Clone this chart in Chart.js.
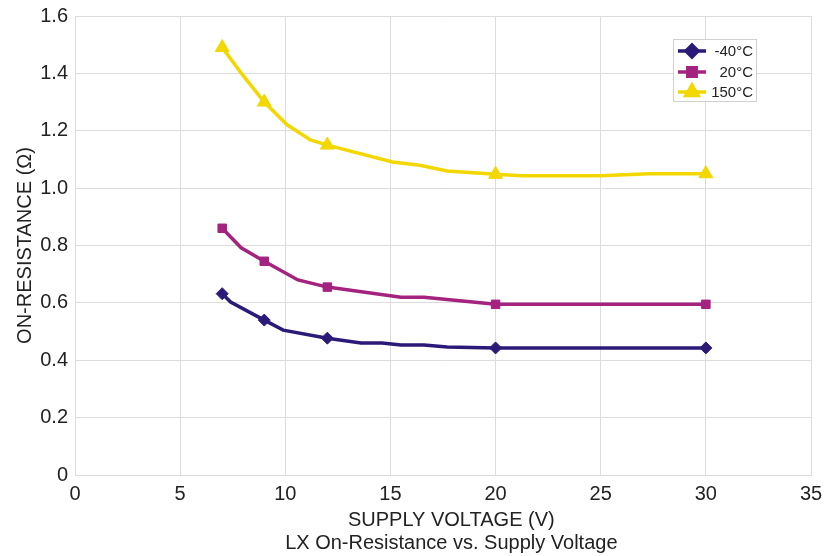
<!DOCTYPE html>
<html>
<head>
<meta charset="utf-8">
<script src="https://cdn.jsdelivr.net/npm/chart.js@4/dist/chart.umd.min.js"></script>
<style>
html,body{margin:0;padding:0;background:#fff;}
#wrap{width:826px;height:556px;position:relative;}
</style>
</head>
<body>
<div id="wrap"><canvas id="c" width="826" height="556"></canvas></div>
<script>
// ---- data ----
const seriesNames = ['-40°C', ' 20°C', '150°C'];
const markerX = [7, 9, 12, 20, 30];

const xNeg40 = [7, 7.4, 9, 9.9, 12, 13.6, 14.6, 15.5, 16.6, 17.7, 20, 30];
const yNeg40 = [0.632, 0.603, 0.540, 0.505, 0.477, 0.460, 0.460, 0.453, 0.453, 0.446, 0.443, 0.443];

const x20 = [7, 7.9, 9, 10.6, 12, 15.5, 16.6, 20, 30];
const y20 = [0.860, 0.792, 0.745, 0.680, 0.655, 0.620, 0.620, 0.595, 0.595];

const x150 = [7, 7.85, 9, 10.1, 11.2, 12, 15.1, 16.4, 17.7, 20, 21.2, 25, 27.3, 30];
const y150 = [1.490, 1.406, 1.300, 1.220, 1.168, 1.150, 1.091, 1.080, 1.060, 1.048, 1.043, 1.043, 1.050, 1.050];

const xTicks = [0, 5, 10, 15, 20, 25, 30, 35];
const yTicks = [0, 0.2, 0.4, 0.6, 0.8, 1.0, 1.2, 1.4, 1.6];

const xTitle = ['   SUPPLY VOLTAGE (V)', '   LX On-Resistance vs. Supply Voltage'];
const yTitle = 'ON-RESISTANCE (Ω)';

const colors = ['#2C1A78', '#A3237F', '#F2D700'];
const styles = ['rectRot', 'rect', 'triangle'];
const radii = [6, 6, 8];

function pts(xs, ys){ return xs.map((x,i)=>({x:x, y:ys[i]})); }
const allData = [pts(xNeg40,yNeg40), pts(x20,y20), pts(x150,y150)];

const FONT = '"Liberation Sans", Arial, sans-serif';

const datasets = allData.map((d,i)=>({
  label: seriesNames[i],
  data: d,
  borderColor: colors[i],
  backgroundColor: colors[i],
  borderWidth: 3.5,
  tension: 0,
  pointStyle: styles[i],
  pointRadius: ctx => (ctx.raw && markerX.includes(ctx.raw.x)) ? radii[i] : 0,
  pointHoverRadius: 0,
  pointBorderWidth: 1,
  order: 2 - i
}));

// legend drawn inside the plot area, top right
const insideLegend = {
  id: 'insideLegend',
  afterDraw(chart){
    const ctx = chart.ctx;
    const left = 673, top = 39, w = 83, h = 62;
    ctx.save();
    ctx.fillStyle = '#fff';
    ctx.fillRect(left, top, w, h);
    ctx.strokeStyle = '#d0d0d0';
    ctx.lineWidth = 1;
    ctx.strokeRect(left+0.5, top+0.5, w, h);
    const rows = [51, 72, 92];
    chart.data.datasets.forEach((ds,i)=>{
      const y = rows[i];
      ctx.strokeStyle = ds.borderColor;
      ctx.lineWidth = 3.5;
      ctx.beginPath();
      ctx.moveTo(678, y); ctx.lineTo(706, y);
      ctx.stroke();
      ctx.fillStyle = ds.backgroundColor;
      if (Chart.helpers && Chart.helpers.drawPoint) {
        Chart.helpers.drawPoint(ctx, {pointStyle: styles[i], radius: i === 2 ? 7 : 6, borderWidth: 1, rotation: 0}, 692, y);
      }
      ctx.fillStyle = '#222';
      ctx.font = '15px ' + FONT;
      ctx.textAlign = 'right';
      ctx.textBaseline = 'middle';
      ctx.fillText(ds.label, 753, y+1);
    });
    ctx.restore();
  }
};

new Chart(document.getElementById('c'), {
  type: 'line',
  data: { datasets },
  plugins: [insideLegend],
  options: {
    responsive: false,
    animation: false,
    devicePixelRatio: 1,
    layout: { padding: { top: 16, right: 15, left: 0, bottom: 0 } },
    plugins: {
      legend: { display: false },
      tooltip: { enabled: false }
    },
    scales: {
      x: {
        type: 'linear',
        min: 0, max: 35,
        afterBuildTicks: s => { s.ticks = xTicks.map(v=>({value:v})); },
        afterFit: s => { s.height = 81; s.paddingLeft = 0; s.paddingRight = 0; },
        grid: { color: '#dcdcdc', lineWidth: 1, drawTicks: false },
        border: { color: '#dcdcdc' },
        ticks: { color: '#222', font: { family: FONT, size: 20 }, padding: 7, maxRotation: 0 },
        title: {
          display: true,
          text: xTitle,
          color: '#222',
          font: { family: FONT, size: 20, lineHeight: 1.15 },
          padding: { top: 4, bottom: 1 }
        }
      },
      y: {
        type: 'linear',
        min: 0, max: 1.6,
        afterBuildTicks: s => { s.ticks = yTicks.map(v=>({value:v})); },
        afterFit: s => { s.width = 75; s.paddingTop = 0; s.paddingBottom = 0; },
        grid: { color: '#dcdcdc', lineWidth: 1, drawTicks: false },
        border: { color: '#dcdcdc' },
        ticks: {
          color: '#222', font: { family: FONT, size: 20 }, padding: 7,
          callback: v => v === 0 ? '0' : Number(v).toFixed(1)
        },
        title: {
          display: true,
          text: yTitle,
          color: '#222',
          font: { family: FONT, size: 20, lineHeight: 1.2 },
          padding: { top: 13, bottom: 0 }
        }
      }
    }
  }
});
</script>
</body>
</html>
